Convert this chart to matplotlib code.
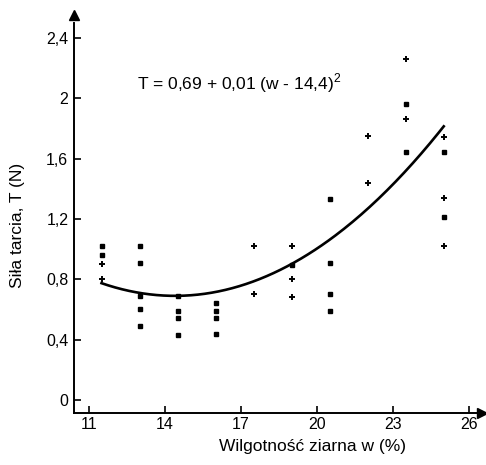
import numpy as np
import matplotlib
matplotlib.use("Agg")
import matplotlib.pyplot as plt
from matplotlib.ticker import FixedLocator, FuncFormatter

plt.rcParams["font.family"] = ["Liberation Sans", "DejaVu Sans"]
plt.rcParams["mathtext.fontset"] = "custom"
plt.rcParams["mathtext.rm"] = "Liberation Sans"

# measured points, marked with "+"
plus_w = [11.5, 11.5, 17.5, 17.5, 19, 19, 19, 22, 22, 23.5, 23.5, 25, 25, 25]
plus_t = [0.90, 0.80, 1.02, 0.70, 1.02, 0.80, 0.685, 1.75, 1.44, 2.26, 1.86, 1.74, 1.34, 1.02]

# measured points, marked with small squares
sq_w = [11.5, 11.5, 13, 13, 13, 13, 13, 14.5, 14.5, 14.5, 14.5,
        16, 16, 16, 16, 19, 20.5, 20.5, 20.5, 20.5, 23.5, 23.5, 25, 25]
sq_t = [1.02, 0.96, 1.02, 0.91, 0.69, 0.60, 0.49, 0.69, 0.59, 0.54, 0.43,
        0.645, 0.59, 0.54, 0.44, 0.895, 1.33, 0.91, 0.70, 0.59, 1.96, 1.645, 1.645, 1.21]

# fitted model T = a + b (w - w0)^2
fit_a, fit_b, fit_w0 = 0.69, 0.01, 14.4
fit_range = (11.5, 25)

x_ticks = [11, 14, 17, 20, 23, 26]
y_ticks = [0, 0.4, 0.8, 1.2, 1.6, 2.0, 2.4]


def comma(v, pos=None):
    return f"{v:g}".replace(".", ",")


fig = plt.figure(figsize=(4.86, 4.65), dpi=100)
ax = fig.add_axes([0.152, 0.112, 0.832, 0.839])

w = np.linspace(*fit_range, 200)
ax.plot(w, fit_a + fit_b * (w - fit_w0) ** 2, color="black", linewidth=1.9)
ax.plot(plus_w, plus_t, "+", color="black", markersize=5, markeredgewidth=1.4)
ax.plot(sq_w, sq_t, "s", color="black", markersize=3.3)

ax.set_xlim(10.41, 26.36)
ax.set_ylim(-0.086, 2.5)
ax.xaxis.set_major_locator(FixedLocator(x_ticks))
ax.yaxis.set_major_locator(FixedLocator(y_ticks))
ax.xaxis.set_major_formatter(FuncFormatter(comma))
ax.yaxis.set_major_formatter(FuncFormatter(comma))
ax.tick_params(direction="in", length=5, width=1.2, labelsize=11.5, colors="black")
ax.tick_params(axis="x", pad=3)
ax.tick_params(axis="y", pad=4)

for side in ("top", "right"):
    ax.spines[side].set_visible(False)
for side in ("left", "bottom"):
    ax.spines[side].set_linewidth(1.4)

# axis arrows
ax.plot(1.01, 0, ">", color="black", markersize=7, transform=ax.transAxes, clip_on=False)
ax.plot(0, 1.02, "^", color="black", markersize=7, transform=ax.transAxes, clip_on=False)

ax.text(12.9, 2.1, "T = 0,69 + 0,01 (w - 14,4)$^2$",
        fontsize=12.5, va="center", ha="left")

ax.set_xlabel("Wilgotność ziarna w (%)", fontsize=12.5)
ax.set_ylabel("Siła tarcia, T (N)", fontsize=12.5)
ax.xaxis.set_label_coords(0.59, -0.066)
ax.yaxis.set_label_coords(-0.122, 0.48)

fig.savefig("out.png", dpi=100)
